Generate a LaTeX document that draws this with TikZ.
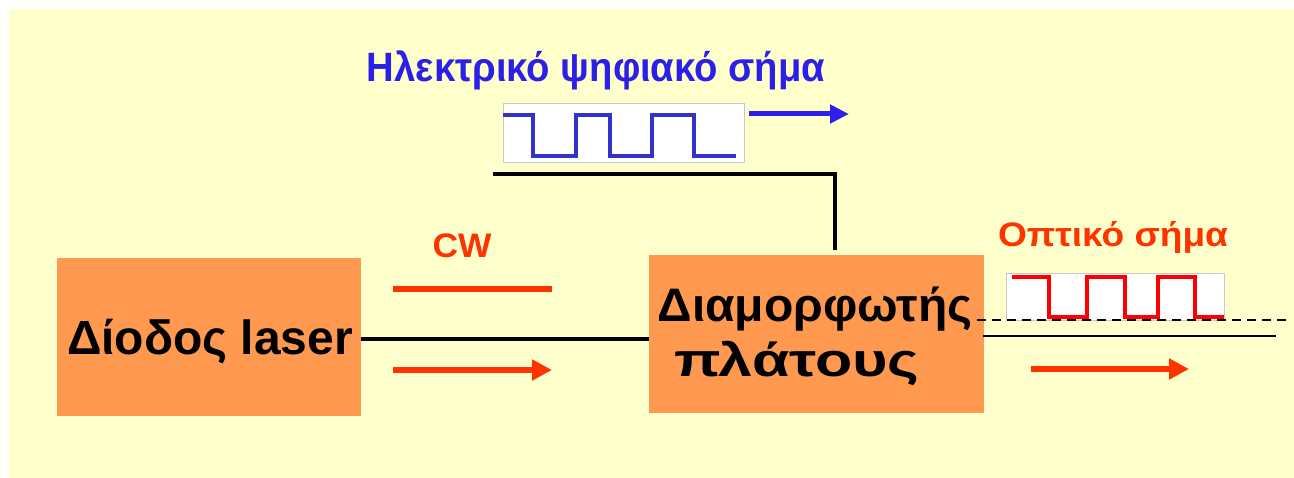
\documentclass[tikz,border=0pt]{standalone}
\usepackage{fontspec}
\usepackage{graphicx}
\usetikzlibrary{arrows.meta}
\newfontfamily\grfont{Liberation Sans}
\newfontfamily\arfont{Liberation Sans}
\newcommand{\fitw}[2]{\resizebox{#1}{\height}{#2}}
\definecolor{bgyellow}{HTML}{FFFFCC}
\definecolor{boxorange}{HTML}{FF9950}
\definecolor{sigred}{HTML}{FF3300}
\definecolor{sigblue}{HTML}{2B1FE8}
\definecolor{waveblue}{HTML}{3333CC}
\definecolor{wavered}{HTML}{FF0000}
\definecolor{framegray}{HTML}{C8C8C8}
\tikzset{
  blockbox/.style={fill=boxorange, draw=none, inner sep=0pt},
  sigbox/.style={fill=white, draw=framegray, line width=1pt, inner sep=0pt},
  wire/.style={draw=black, line width=3.5pt},
  thinwire/.style={draw=black, line width=2pt},
  redarrow/.style={draw=sigred, line width=6pt, -{Triangle[length=20pt,width=20pt]}},
  bluearrow/.style={draw=sigblue, line width=5pt, -{Triangle[length=19pt,width=18pt]}},
  wave/.style={line width=3.5pt, line join=miter},
}
\begin{document}
\begin{tikzpicture}[x=1pt,y=-1pt]
\useasboundingbox (0,0) rectangle (1294,478);
\fill[bgyellow] (9,9) rectangle (1294,478);

% blocks
\node[blockbox, minimum width=304pt, minimum height=158pt] (laser) at (209,337) {};
\node[anchor=base] (lasertxt) at (210,355) {\arfont\bfseries\fontsize{48}{56}\selectfont Δίοδος laser};
\node[blockbox, minimum width=335pt, minimum height=158pt] (mod) at (816.5,334) {};
\node[anchor=base] (modtxt1) at (815,322) {\grfont\bfseries\fontsize{47}{52}\selectfont\fitw{315pt}{Διαμορφωτής}};
\node[anchor=base] (modtxt2) at (797,377) {\grfont\bfseries\fontsize{47}{52}\selectfont\fitw{245pt}{πλάτους}};

% labels
\node[anchor=base, text=sigblue] (eltitle) at (596,82) {\grfont\bfseries\fontsize{41}{46}\selectfont\fitw{458pt}{Ηλεκτρικό ψηφιακό σήμα}};
\node[anchor=base, text=sigred] (cwtitle) at (462,258) {\grfont\bfseries\fontsize{34}{40}\selectfont\fitw{59pt}{CW}};
\node[anchor=base, text=sigred] (optitle) at (1113,247) {\grfont\bfseries\fontsize{34}{40}\selectfont\fitw{230pt}{Οπτικό σήμα}};

% electrical signal box
\node[sigbox, minimum width=241pt, minimum height=59pt] (elbox) at (623.5,133.5) {};
\draw[waveblue, wave]
  (elbox.west |- 0,115) -- (533,115) -- (533,156) -- (576,156) -- (576,115)
  -- (610,115) -- (610,156) -- (652,156) -- (652,115) -- (694,115)
  -- (694,156) -- (736,156);
\coordinate (barrowstart) at (749,114);
\coordinate (barrowend) at (849,114);
\draw[bluearrow] (barrowstart) -- (barrowend);

% optical signal box
\node[sigbox, minimum width=218pt, minimum height=47pt] (opbox) at (1115,297.5) {};
\draw[wavered, wave]
  (1012,277) -- (1049,277) -- (1049,317) -- (1087,317) -- (1087,277)
  -- (1125,277) -- (1125,317) -- (1158,317) -- (1158,277) -- (1195,277)
  -- (1195,317) -- (1224,317);

% connectors
\draw[wire] (laser.east |- 0,339) -- (mod.west |- 0,339);
\coordinate (e1) at (493,174);
\coordinate (e2) at (835,250);
\draw[wire] (e1) -| (e2);

\coordinate (d1) at (977,320);
\coordinate (d2) at (1290,320);
\draw[draw=black, line width=2pt, dash pattern=on 9pt off 6pt] (d1) -- (d2);
\coordinate (s1) at (983,336);
\coordinate (s2) at (1276,336);
\draw[thinwire] (s1) -- (s2);

% CW line and arrows
\coordinate (cw1) at (393,289);
\coordinate (cw2) at (552,289);
\draw[draw=sigred, line width=6pt] (cw1) -- (cw2);
\coordinate (ra1) at (393,370);
\coordinate (ra2) at (552,370);
\draw[redarrow] (ra1) -- (ra2);
\coordinate (rb1) at (1031,369);
\coordinate (rb2) at (1189,369);
\draw[redarrow] (rb1) -- (rb2);
\end{tikzpicture}
\end{document}
